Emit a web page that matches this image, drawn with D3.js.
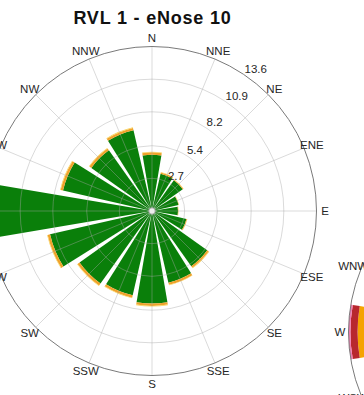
<!DOCTYPE html>
<html>
<head>
<meta charset="utf-8">
<script src="https://cdn.jsdelivr.net/npm/d3@7"></script>
<style>
  html, body { margin: 0; padding: 0; background: #fff; }
  svg { display: block; }
  text { font-family: "Liberation Sans", Arial, Helvetica, sans-serif; }
</style>
</head>
<body>
<svg id="chart" width="364" height="395"></svg>
<script>
// Compass sectors, clockwise from north
const directions = ["N","NNE","NE","ENE","E","ESE","SE","SSE","S","SSW","SW","WSW","W","WNW","NW","NNW"];

// Frequency (%) per sector for each speed class, RVL 1 - eNose 10
const classLow  = [4.65, 3.17, 3.12, 2.25, 2.15, 2.92, 5.60, 6.08, 7.65, 7.15, 7.35, 8.65, 13.30, 7.55, 6.15, 6.85];
const classMid  = [0.20, 0.10, 0.06, 0.03, 0.03, 0.06, 0.16, 0.18, 0.20, 0.20, 0.20, 0.20, 0.25, 0.20, 0.20, 0.20];
const classHigh = [0.05, 0.03, 0.02, 0.02, 0.02, 0.02, 0.04, 0.04, 0.05, 0.05, 0.05, 0.05, 0.05, 0.05, 0.05, 0.05];
const classColors = ["#0a7f0a", "#f0a22a", "#f7d35a"];

// Frequency rings and their labels
const ringTicks = [2.7, 5.4, 8.2, 10.9, 13.6];
const ringLabels = ["2.7", "5.4", "8.2", "10.9", "13.6"];

// Neighbouring rose (only its west sector falls inside the view)
const rose2Directions = ["W"];
const rose2Classes = [[12.0], [0.55], [0.15]];
const rose2Colors = ["#f5a300", "#b8272e", "#f07ab0"];
const rose2Max = 12.7;

const svg = d3.select("#chart");
const R = 164.5;
const sector = 2 * Math.PI / directions.length;
const halfWidth = 9.6 * Math.PI / 180;
const angleOf = d => directions.indexOf(d) * sector;

function drawRose(g, dirs, classes, colors, rScale) {
  // stacked wedges
  const arc = d3.arc();
  dirs.forEach((d, i) => {
    let base = 0;
    classes.forEach((cls, c) => {
      const v = cls[i];
      const a = angleOf(d);
      g.append("path")
        .attr("d", arc({
          innerRadius: rScale(base),
          outerRadius: rScale(base + v),
          startAngle: a - halfWidth,
          endAngle: a + halfWidth
        }))
        .attr("fill", colors[c]);
      base += v;
    });
  });
}

function drawGrid(g, rScale, ticks) {
  const grid = g.append("g").attr("fill", "none");
  grid.selectAll("circle.ring")
    .data(ticks.slice(0, -1))
    .join("circle")
    .attr("class", "ring")
    .attr("r", d => rScale(d))
    .attr("stroke", "#a8a8a8")
    .attr("stroke-opacity", 0.42)
    .attr("stroke-width", 1);
  grid.selectAll("line.spoke")
    .data(directions)
    .join("line")
    .attr("class", "spoke")
    .attr("x1", 0).attr("y1", 0)
    .attr("x2", d => R * Math.sin(angleOf(d)))
    .attr("y2", d => -R * Math.cos(angleOf(d)))
    .attr("stroke", "#a8a8a8")
    .attr("stroke-opacity", 0.42)
    .attr("stroke-width", 1);
  grid.append("circle")
    .attr("r", R)
    .attr("stroke", "#7a7a7a")
    .attr("stroke-width", 1);
}

function drawCompassLabels(g) {
  g.selectAll("text.dir")
    .data(directions)
    .join("text")
    .attr("class", "dir")
    .attr("x", d => 173 * Math.sin(angleOf(d)))
    .attr("y", d => -173 * Math.cos(angleOf(d)))
    .attr("text-anchor", "middle")
    .attr("dominant-baseline", "central")
    .attr("font-size", 11.5)
    .attr("fill", "#262626")
    .text(d => d);
}

// Main rose
const rScale = d3.scaleLinear().domain([0, ringTicks[ringTicks.length - 1]]).range([0, R]);
const rose = svg.append("g").attr("transform", "translate(152,211)");
drawRose(rose, directions, [classLow, classMid, classHigh], classColors, rScale);
drawGrid(rose, rScale, ringTicks);
rose.append("circle").attr("r", 3.2).attr("fill", "#eeeeee").attr("stroke", "#9a9a9a").attr("stroke-width", 0.8);
drawCompassLabels(rose);

const labelAngle = 35.5 * Math.PI / 180;
rose.selectAll("text.ringlab")
  .data(ringTicks)
  .join("text")
  .attr("class", "ringlab")
  .attr("x", d => rScale(d) * Math.sin(labelAngle) - 3)
  .attr("y", d => -rScale(d) * Math.cos(labelAngle) - 4)
  .attr("font-size", 11.5)
  .attr("fill", "#262626")
  .text((d, i) => ringLabels[i]);

svg.append("text")
  .attr("x", 152.5)
  .attr("y", 24)
  .attr("text-anchor", "middle")
  .attr("font-size", 18)
  .attr("font-weight", "bold")
  .attr("letter-spacing", 0.8)
  .attr("fill", "#111")
  .text("RVL 1 - eNose 10");

// Neighbouring rose, mostly outside the view
const rScale2 = d3.scaleLinear().domain([0, rose2Max]).range([0, R]);
const rose2 = svg.append("g").attr("transform", "translate(513,332)");
drawRose(rose2, rose2Directions, rose2Classes, rose2Colors, rScale2);
rose2.append("circle").attr("r", R).attr("fill", "none").attr("stroke", "#7a7a7a").attr("stroke-width", 1);
drawCompassLabels(rose2);
</script>
</body>
</html>
